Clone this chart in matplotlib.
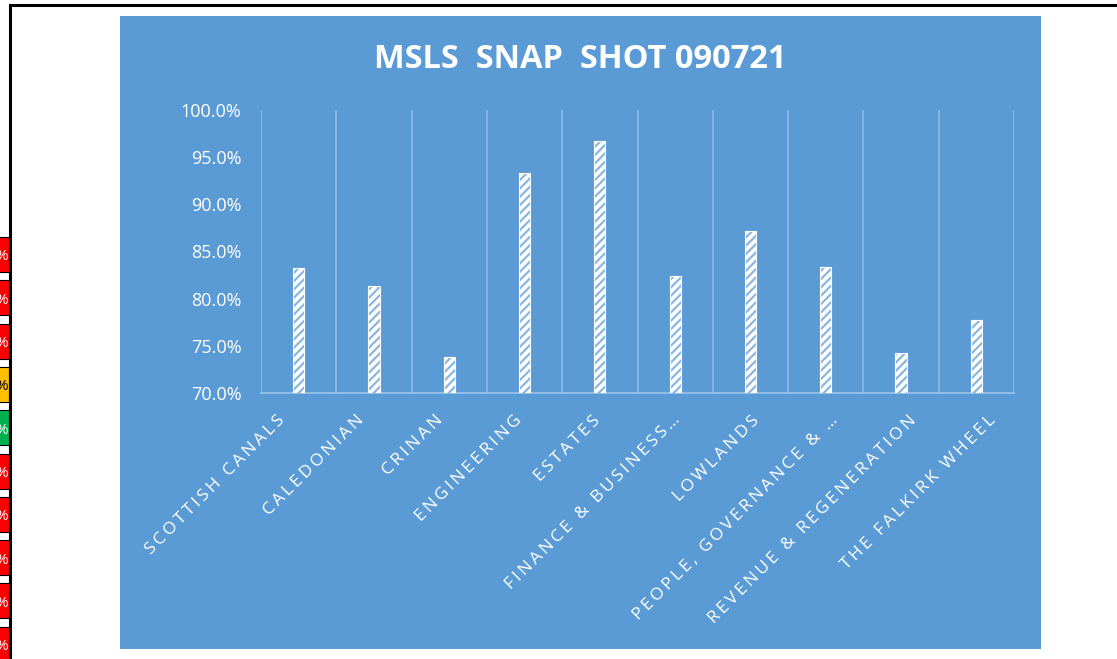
import matplotlib
matplotlib.use("Agg")
import matplotlib.pyplot as plt
from matplotlib.patches import Rectangle
from matplotlib.lines import Line2D
from matplotlib.ticker import PercentFormatter

plt.rcParams["font.family"] = ["Open Sans", "DejaVu Sans"]
plt.rcParams["hatch.linewidth"] = 1.6

# data
categories = [
    "SCOTTISH CANALS", "CALEDONIAN", "CRINAN", "ENGINEERING", "ESTATES",
    "FINANCE & BUSINESS…", "LOWLANDS", "PEOPLE, GOVERNANCE & …",
    "REVENUE & REGENERATION", "THE FALKIRK WHEEL",
]
values = [0.832, 0.813, 0.738, 0.933, 0.967, 0.824, 0.872, 0.834, 0.742, 0.777]
y_ticks = [0.70, 0.75, 0.80, 0.85, 0.90, 0.95, 1.00]
side_cells = ["red", "red", "red", "orange", "green", "red", "red", "red", "red", "red"]

BLUE = "#5B9BD5"
cell_colors = {"red": "#FF0000", "orange": "#FFC000", "green": "#00B050"}

W, H = 1117, 659
fig = plt.figure(figsize=(W / 100, H / 100), dpi=100)
fig.patch.set_facecolor("white")


def fx(px):
    return px / W


def fy(py):
    return 1 - py / H


# sheet frame and the cut-off cells on the left
fig.add_artist(Line2D([fx(10), 1], [fy(5), fy(5)], color="black", lw=2.2, zorder=-5))
fig.add_artist(Line2D([fx(10), fx(10)], [fy(5), 0], color="black", lw=2.2, zorder=-5))
for i, c in enumerate(side_cells):
    top = 237 + i * 43.3
    fig.add_artist(Rectangle((fx(-2), fy(top + 35)), fx(11), 35 / H,
                             facecolor=cell_colors[c], edgecolor="black", lw=0.8, zorder=-6))
    fig.text(fx(-5), fy(top + 20), "%", ha="left", va="center", fontsize=11,
             color="black" if c == "orange" else "white", zorder=-5.5)

# chart area
fig.add_artist(Rectangle((fx(120), fy(649)), fx(1041 - 120), (649 - 16) / H,
                         facecolor=BLUE, edgecolor="none", zorder=-10))

fig.text(fx(580), fy(60), "MSLS  SNAP  SHOT 090721", ha="center", va="center",
         fontsize=23.5, fontweight="bold", color="white")

ax = fig.add_axes([fx(261), fy(393), fx(1014 - 261), (393 - 110) / H])
ax.set_facecolor("none")

x = list(range(len(categories)))
ax.bar(x, values, width=0.15, color="white", edgecolor="#8AB6E2", hatch="////",
       linewidth=0, zorder=3)
ax.bar(x, values, width=0.15, color="none", edgecolor="white", linewidth=0.8, zorder=4)

ax.set_ylim(0.70, 1.00)
ax.set_xlim(-0.5, len(categories) - 0.5)
ax.set_yticks(y_ticks)
ax.yaxis.set_major_formatter(PercentFormatter(1.0, decimals=1))

for b in range(len(categories) + 1):
    ax.axvline(b - 0.5, color="white", alpha=0.3, lw=1.2, zorder=1)

for s in ["top", "right", "left"]:
    ax.spines[s].set_visible(False)
ax.spines["bottom"].set_color("#9DC3E6")
ax.spines["bottom"].set_linewidth(1.2)

# category labels: Excel spreads them a little wider than the categories
ax.set_xticks(x)
ax.set_xticklabels([])
ax.tick_params(axis="x", length=0)
for i, name in enumerate(categories):
    ax.annotate("\u2009".join(list(name)), xy=(i * 1.05 - 0.22, 0),
                xycoords=("data", "axes fraction"), xytext=(0, -25),
                textcoords="offset pixels", rotation=45, ha="right", va="center",
                rotation_mode="anchor", fontsize=12.5, color="white",
                annotation_clip=False)
ax.tick_params(axis="y", length=0, pad=14, labelsize=13, labelcolor="white")

fig.savefig("out.png", dpi=100)
